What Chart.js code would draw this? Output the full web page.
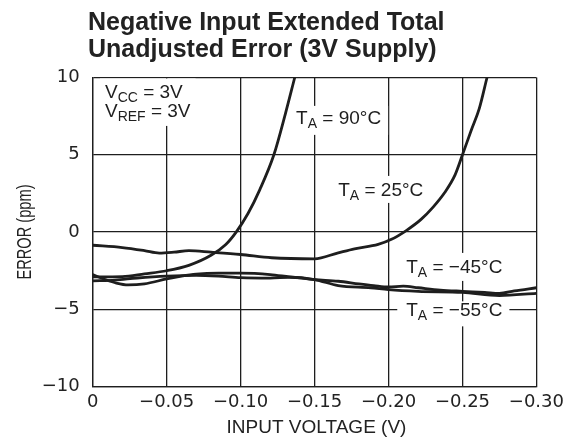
<!DOCTYPE html>
<html>
<head>
<meta charset="utf-8">
<script src="https://cdn.jsdelivr.net/npm/chart.js@4/dist/chart.umd.min.js"></script>
<style>
  body { margin: 0; background: #fff; }
  #wrap { width: 569px; height: 437px; position: relative; }
</style>
</head>
<body>
<div id="wrap"><canvas id="myChart"></canvas></div>
<script>
// values (x = input voltage in V, y = error in ppm)
const x90 = [0, -0.02, -0.035, -0.05, -0.065, -0.08, -0.09, -0.097, -0.105, -0.113, -0.1225, -0.1304, -0.1366];
const y90 = [-2.9, -2.88, -2.7, -2.5, -2.15, -1.5, -0.8, 0, 1.2, 2.75, 5.0, 7.7, 10];

const x25 = [0, -0.02, -0.035, -0.045, -0.055, -0.065, -0.08, -0.1, -0.121, -0.15, -0.166, -0.177, -0.193, -0.202, -0.212, -0.222, -0.23, -0.238, -0.245, -0.25, -0.256, -0.2614, -0.2666];
const y25 = [-0.85, -1.0, -1.2, -1.36, -1.3, -1.2, -1.3, -1.45, -1.66, -1.73, -1.34, -1.08, -0.8, -0.47, 0.1, 0.82, 1.6, 2.56, 3.7, 5.0, 6.6, 8.0, 10];

const xm45 = [0, -0.008, -0.016, -0.024, -0.035, -0.05, -0.06, -0.07, -0.085, -0.1, -0.12, -0.133, -0.15, -0.166, -0.18, -0.19, -0.2, -0.21, -0.22, -0.235, -0.25, -0.265, -0.275, -0.285, -0.3];
const ym45 = [-2.75, -3.05, -3.3, -3.42, -3.35, -3.03, -2.85, -2.72, -2.66, -2.66, -2.75, -2.9, -3.07, -3.18, -3.35, -3.46, -3.55, -3.5, -3.6, -3.75, -3.83, -3.9, -3.96, -3.8, -3.6];

const xm55 = [0, -0.015, -0.03, -0.05, -0.07, -0.085, -0.1, -0.12, -0.133, -0.15, -0.166, -0.188, -0.2, -0.22, -0.25, -0.275, -0.3];
const ym55 = [-3.15, -3.1, -2.97, -2.85, -2.8, -2.85, -2.95, -2.98, -2.92, -3.07, -3.46, -3.6, -3.72, -3.83, -3.9, -4.1, -3.96];

const xTicks = [0, -0.05, -0.10, -0.15, -0.20, -0.25, -0.30];
const yTicks = [-10, -5, 0, 5, 10];

const ink = '#1e1e1e';

function pts(xs, ys) {
    return xs.map((x, i) => ({ x: x, y: ys[i] }));
}

function curve(label, xs, ys) {
    return {
        label: label,
        data: pts(xs, ys),
        borderColor: ink,
        borderWidth: 2.8,
        pointRadius: 0,
        cubicInterpolationMode: 'monotone',
        fill: false
    };
}

// "T" + subscript "A" + rest, returns width
function subText(ctx, x, y, main, sub, rest, size, draw) {
    ctx.font = size + 'px "Liberation Sans", Arial, sans-serif';
    const w1 = ctx.measureText(main).width;
    const w3 = ctx.measureText(rest).width;
    ctx.font = Math.round(size * 0.75) + 'px "Liberation Sans", Arial, sans-serif';
    const w2 = ctx.measureText(sub).width;
    if (draw) {
        ctx.font = size + 'px "Liberation Sans", Arial, sans-serif';
        ctx.fillText(main, x, y);
        ctx.font = Math.round(size * 0.75) + 'px "Liberation Sans", Arial, sans-serif';
        ctx.fillText(sub, x + w1, y + 4);
        ctx.font = size + 'px "Liberation Sans", Arial, sans-serif';
        ctx.fillText(rest, x + w1 + w2, y);
    }
    return w1 + w2 + w3;
}

const notes = {
    id: 'notes',
    beforeDatasetsDraw(chart) {
        const ctx = chart.ctx;
        const sx = chart.scales.x, sy = chart.scales.y;
        const area = chart.chartArea;
        ctx.save();
        ctx.fillStyle = ink;
        ctx.textAlign = 'left';
        ctx.textBaseline = 'alphabetic';

        // supply box
        const vx = sx.getPixelForValue(-0.0083);
        const vb1 = sy.getPixelForValue(8.68);
        const vb2 = sy.getPixelForValue(7.45);
        const w1 = subText(ctx, 0, 0, 'V', 'CC', ' = 3V', 19, false);
        const w2 = subText(ctx, 0, 0, 'V', 'REF', ' = 3V', 19, false);
        ctx.fillStyle = '#fff';
        ctx.fillRect(vx - 5, area.top + 1, Math.max(w1, w2) + 10, vb2 + 8 - area.top);
        ctx.fillStyle = ink;
        subText(ctx, vx, vb1, 'V', 'CC', ' = 3V', 19, true);
        subText(ctx, vx, vb2, 'V', 'REF', ' = 3V', 19, true);

        const tags = [
            { x: -0.1375, y: 7.0, t: ' = 90\u00B0C', up: 18, dn: 11 },
            { x: -0.166, y: 2.34, t: ' = 25\u00B0C', up: 20, dn: 7 },
            { x: -0.212, y: -2.64, t: ' = \u221245\u00B0C', up: 20, dn: 8 },
            { x: -0.212, y: -5.45, t: ' = \u221255\u00B0C', up: 15, dn: 10 }
        ];
        tags.forEach(function(g) {
            const px = sx.getPixelForValue(g.x);
            const py = sy.getPixelForValue(g.y);
            const w = subText(ctx, 0, 0, 'T', 'A', g.t, 19, false);
            ctx.fillStyle = '#fff';
            ctx.fillRect(px - 9, py - g.up, w + 16, g.up + g.dn);
            ctx.fillStyle = ink;
            subText(ctx, px, py, 'T', 'A', g.t, 19, true);
        });
        ctx.restore();
    },
    afterDraw(chart) {
        const ctx = chart.ctx;
        ctx.save();
        ctx.fillStyle = '#222';
        ctx.textBaseline = 'alphabetic';
        // title
        ctx.textAlign = 'left';
        ctx.font = 'bold 25px "Liberation Sans", Arial, sans-serif';
        ctx.fillText('Negative Input Extended Total', 88, 30);
        ctx.fillText('Unadjusted Error (3V Supply)', 88, 56.5);
        // x title
        ctx.textAlign = 'center';
        ctx.font = '19px "Liberation Sans", Arial, sans-serif';
        ctx.fillText('INPUT VOLTAGE (V)', 316.5, 433);
        // y title, narrow
        ctx.font = '20px "Liberation Sans", Arial, sans-serif';
        const tw = ctx.measureText('ERROR (ppm)').width;
        ctx.translate(31, 232);
        ctx.rotate(-Math.PI / 2);
        ctx.scale(95 / tw, 1);
        ctx.fillText('ERROR (ppm)', 0, 0);
        ctx.restore();
    }
};

const data = {
    datasets: [
        curve('TA = 90°C', x90, y90),
        curve('TA = 25°C', x25, y25),
        curve('TA = -45°C', xm45, ym45),
        curve('TA = -55°C', xm55, ym55)
    ]
};

const config = {
    type: 'line',
    data: data,
    options: {
        responsive: true,
        maintainAspectRatio: false,
        animation: false,
        layout: { padding: { top: 77.5, right: 30, bottom: 0, left: 0 } },
        plugins: {
            legend: { display: false },
            tooltip: { enabled: false }
        },
        scales: {
            x: {
                type: 'linear',
                reverse: true,
                min: -0.3,
                max: 0,
                afterFit: function(s) { s.height = 50.3; },
                afterBuildTicks: function(s) { s.ticks = xTicks.map(v => ({ value: v })); },
                grid: { color: ink, lineWidth: 1.3, drawTicks: false },
                border: { color: ink, width: 1.3 },
                ticks: {
                    maxRotation: 0,
                    padding: 5,
                    color: '#222',
                    font: { family: '"DejaVu Sans"', size: 18 },
                    callback: function(v) { return v === 0 ? '0' : '\u2212' + Math.abs(v).toFixed(2); }
                }
            },
            y: {
                min: -10,
                max: 10,
                afterFit: function(s) { s.width = 92.7; },
                afterBuildTicks: function(s) { s.ticks = yTicks.map(v => ({ value: v })); },
                grid: { color: ink, lineWidth: 1.3, drawTicks: false },
                border: { color: ink, width: 1.3 },
                ticks: {
                    padding: 13,
                    color: '#222',
                    font: { family: '"DejaVu Sans"', size: 18 },
                    callback: function(v) { return v < 0 ? '\u2212' + Math.abs(v) : '' + v; }
                }
            }
        }
    },
    plugins: [notes]
};

const myChart = new Chart(document.getElementById('myChart'), config);
</script>
</body>
</html>
